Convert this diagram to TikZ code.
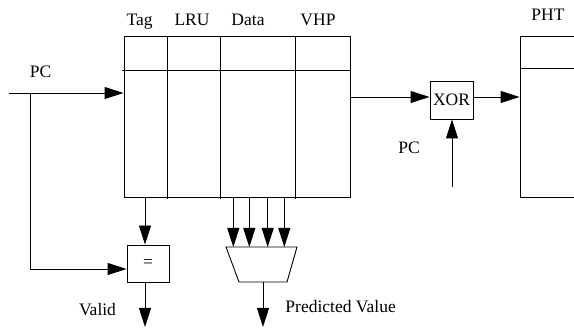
\documentclass[tikz,border=0pt]{standalone}
\usepackage{fontspec}
\setmainfont{Liberation Serif}
\usetikzlibrary{arrows.meta}
\begin{document}
\begin{tikzpicture}[x=1pt,y=-1pt,line width=0.9pt,
  arr/.style={-{Triangle[length=19pt,width=12pt]}},
  lbl/.style={inner sep=0pt,anchor=base,font=\fontsize{17.5}{20}\selectfont},
  boxnode/.style={draw,inner sep=0pt,font=\fontsize{17.5}{20}\selectfont}]
\useasboundingbox (0,0) rectangle (574,328);
% main table
\node[draw,minimum width=226pt,minimum height=161pt,inner sep=0pt] (tbl) at (237,116.5) {};
\draw (122,70) -- (351,70);
\foreach \x in {167,220,295} \draw (\x,36) -- (\x,199);
% column labels
\node[lbl] (ltag) at (139.7,25.7) {Tag};
\node[lbl] (llru) at (192,25.7) {LRU};
\node[lbl] (ldata) at (248,25.7) {Data};
\node[lbl] (lvhp) at (318,25.7) {VHP};
% PHT
\node[draw,minimum width=60pt,minimum height=161pt,inner sep=0pt] (pht) at (550,116.5) {};
\draw (520,68) -- (580,68);
\node[lbl] (lpht) at (548,20.7) {PHT};
% XOR
\node[boxnode,minimum width=43pt,minimum height=38pt] (xor) at (451.5,100) {XOR};
% equal box
\node[boxnode,minimum width=42pt,minimum height=37pt] (eq) at (148,263.5) {=};
% mux
\coordinate (m1) at (226,247);
\coordinate (m2) at (297,247);
\coordinate (m3) at (287,282);
\coordinate (m4) at (239,282);
\draw (m1) -- (m2) -- (m3) -- (m4) -- cycle;
% PC input
\coordinate (pcin) at (9,93);
\coordinate (br) at (30,93);
\coordinate (brb) at (30,269);
\node[lbl] (lpc) at (40.5,77.3) {PC};
\draw[arr] (pcin) -- (pcin -| tbl.west);
\draw[arr] (br) -- (brb) -- (brb -| eq.west);
% tag to eq
\coordinate (t1) at (145,197);
\draw[arr] (t1) -- (t1 |- eq.north);
\coordinate (v1) at (145,282);
\coordinate (v2) at (145,327);
\draw[arr] (v1) -- (v2);
\node[lbl] (lvalid) at (97.5,315.7) {Valid};
% data to mux
\foreach \x in {233.3,249.3,267.7,284.3} \draw[arr] (\x,197) -- (\x,247);
\coordinate (o1) at (263,282);
\coordinate (o2) at (263,327);
\draw[arr] (o1) -- (o2);
\node[lbl,anchor=base west] (lpv) at (285,312.3) {Predicted Value};
% VHP to XOR
\coordinate (vh) at (350,97);
\draw[arr] (vh) -- (vh -| xor.west);
\draw[arr] (vh -| xor.east) -- (vh -| pht.west);
% PC to XOR
\coordinate (pc2) at (452,187);
\draw[arr] (pc2) -- (pc2 |- xor.south);
\node[lbl] (lpc2) at (409,154) {PC};
\end{tikzpicture}
\end{document}
